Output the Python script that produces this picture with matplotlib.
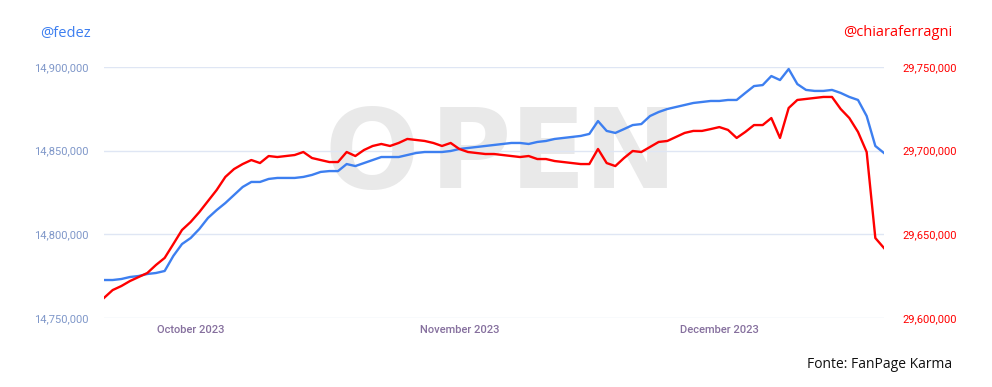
import matplotlib
matplotlib.use("Agg")
import matplotlib.pyplot as plt
import matplotlib.dates as mdates
from matplotlib.ticker import FuncFormatter, FixedLocator
import pandas as pd

# ---------------- data ----------------
dates = pd.date_range("2023-09-21", "2023-12-20", freq="D")

fedez = [
    14772700, 14772700, 14773300, 14774500, 14775100, 14776300, 14776900, 14778100, 14787100, 14794200,
    14797800, 14803200, 14809800, 14814500, 14818700, 14823500, 14828300, 14831300, 14831300, 14833100,
    14833700, 14833700, 14833700, 14834300, 14835500, 14837300, 14837800, 14837800, 14842000, 14840800,
    14842600, 14844400, 14846200, 14846200, 14846200, 14847400, 14848600, 14849200, 14849200, 14849200,
    14849800, 14851000, 14851600, 14852200, 14852800, 14853400, 14854000, 14854600, 14854600, 14854000,
    14855200, 14855800, 14857000, 14857600, 14858200, 14858800, 14860000, 14867700, 14861800, 14860600,
    14862900, 14865300, 14865900, 14870700, 14873100, 14874900, 14876100, 14877300, 14878500, 14879100,
    14879700, 14879700, 14880300, 14880300, 14884500, 14888600, 14889200, 14894600, 14892200, 14898800,
    14889800, 14886300, 14885700, 14885700, 14886300, 14884500, 14882100, 14880300, 14870700, 14852800,
    14848600,
]

chiara = [
    29612000, 29616700, 29619100, 29622100, 29624500, 29626900, 29631700, 29635900, 29644200, 29652600,
    29657400, 29663300, 29669900, 29676500, 29684300, 29689000, 29692000, 29694400, 29692600, 29696800,
    29696200, 29696800, 29697400, 29699200, 29695600, 29694400, 29693200, 29693200, 29699200, 29696800,
    29700400, 29702800, 29704000, 29702800, 29704600, 29707000, 29706400, 29705800, 29704600, 29702800,
    29704600, 29701000, 29699200, 29698600, 29698000, 29698000, 29697400, 29696800, 29696200, 29696800,
    29695000, 29695000, 29693800, 29693200, 29692600, 29692000, 29692000, 29701000, 29692600, 29690800,
    29695600, 29699800, 29699200, 29702200, 29705200, 29705800, 29708200, 29710600, 29711800, 29711800,
    29712900, 29714100, 29712400, 29707600, 29711200, 29715300, 29715300, 29719500, 29707600, 29725500,
    29730300, 29730900, 29731500, 29732100, 29732100, 29724900, 29719500, 29711200, 29699200, 29647800,
    29641800,
]

left_ticks = [14750000, 14800000, 14850000, 14900000]
right_ticks = [29600000, 29650000, 29700000, 29750000]
month_ticks = ["2023-10-01", "2023-11-01", "2023-12-01"]

# ---------------- style ----------------
BLUE = "#3d7ff0"
RED = "#ff0000"
LEFT_LBL = "#7f97c9"
X_LBL = "#86709e"
GRID = "#dfe6f4"

fig = plt.figure(figsize=(9.92, 3.87), dpi=100)
W, H = 992, 387
ax = fig.add_axes([104 / W, 1 - 318 / H, (884 - 104) / W, (318 - 67) / H])
ax2 = ax.twinx()

# watermark (behind the lines)
for letter, xc in zip("OPEN", [372, 470, 548, 630]):
    ax.text(xc / W, 1 - 157 / H, letter, fontsize=80, fontweight="bold",
            color="#e9e9e9", ha="center", va="center", family="DejaVu Sans",
            transform=fig.transFigure, zorder=0, clip_on=False)

ax.plot(dates, fedez, color=BLUE, lw=1.7, zorder=3)
ax2.plot(dates, chiara, color=RED, lw=1.7, zorder=3)

ax.set_xlim(dates[0], dates[-1])
ax.set_ylim(left_ticks[0], left_ticks[-1])
ax2.set_ylim(right_ticks[0], right_ticks[-1])

ax.yaxis.set_major_locator(FixedLocator(left_ticks))
ax2.yaxis.set_major_locator(FixedLocator(right_ticks))
fmt = FuncFormatter(lambda v, p: f"{int(round(v)):,}")
ax.yaxis.set_major_formatter(fmt)
ax2.yaxis.set_major_formatter(fmt)

ax.xaxis.set_major_locator(FixedLocator(mdates.date2num(pd.to_datetime(month_ticks))))
ax.xaxis.set_major_formatter(mdates.DateFormatter("%B %Y"))

ax.grid(axis="y", color=GRID, lw=1.0, zorder=1)
ax.set_axisbelow(True)
for a in (ax, ax2):
    for s in a.spines.values():
        s.set_visible(False)
    a.patch.set_visible(False)

ax.tick_params(axis="y", length=0, pad=11, labelsize=8, labelcolor=LEFT_LBL)
ax2.tick_params(axis="y", length=0, pad=13, labelsize=8, labelcolor=RED)
ax.tick_params(axis="x", length=0, pad=5, labelsize=8, labelcolor=X_LBL)
for lbl in ax.get_xticklabels():
    lbl.set_family("Roboto")
    lbl.set_fontweight("medium")
for lbl in ax.get_yticklabels() + ax2.get_yticklabels():
    lbl.set_family("Roboto")

fig.text(40 / W, 1 - 33 / H, "@fedez", color="#3d7ff0", fontsize=10.5,
         family="Open Sans", ha="left", va="center")
fig.text(952 / W, 1 - 33 / H, "@chiaraferragni", color=RED, fontsize=10.5,
         family="Open Sans", ha="right", va="center")
fig.text(952 / W, 1 - 365 / H, "Fonte: FanPage Karma", color="#111111", fontsize=10,
         family="Open Sans", ha="right", va="center")

fig.savefig("out.png", dpi=100)
